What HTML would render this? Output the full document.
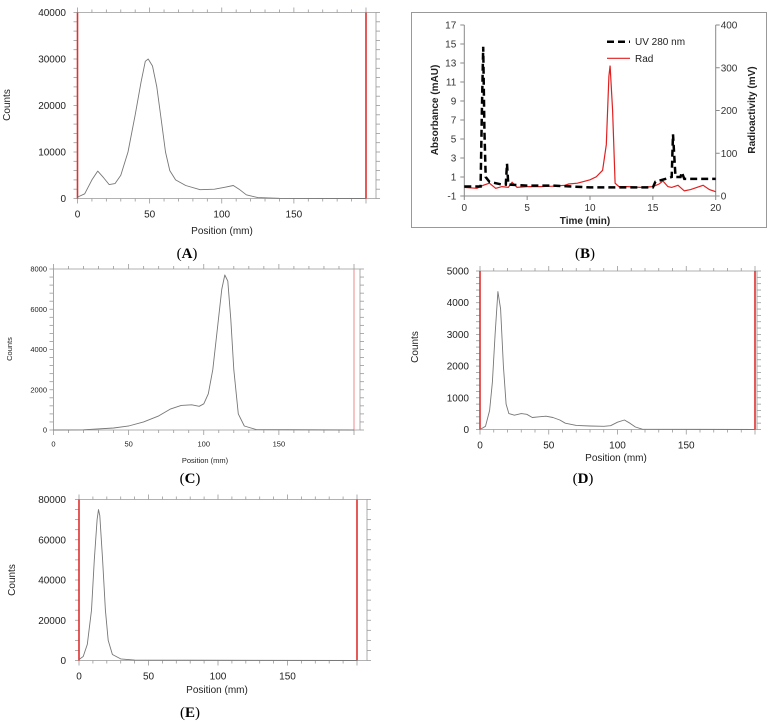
<!DOCTYPE html>
<html><head><meta charset="utf-8">
<style>
body{margin:0;background:#fff;width:771px;height:723px;overflow:hidden;font-family:"Liberation Sans",sans-serif}
svg{position:absolute;left:0;top:0}
</style></head>
<body>
<svg id="fig" width="771" height="723" viewBox="0 0 771 723"></svg>
<script>
// Panel A data (position mm, counts)
const aPos=[0,5,10,14,18,22,26,30,35,40,44,47,49,52,55,58,61,64,68,75,85,95,102,108,112,117,125,140,200];
const aCounts=[300,1000,4000,5900,4500,3000,3200,5000,10000,18000,25000,29500,30000,28500,24000,17000,10000,6000,4000,2800,1900,2000,2400,2800,2000,800,200,50,0];
// Panel C data
const cPos=[0,20,40,50,60,70,78,85,92,97,100,103,106,109,112,114,116,118,120,123,127,135,200];
const cCounts=[0,10,100,200,400,700,1050,1220,1250,1180,1300,1800,3000,5000,7000,7700,7400,5500,3000,800,200,20,0];
// Panel D data
const dPos=[0,4,7,9,11,13,15,17,19,21,25,30,34,38,43,48,53,58,62,70,80,90,95,100,105,109,113,118,200];
const dCounts=[0,100,600,1500,3000,4350,3800,2000,800,500,450,500,480,380,400,420,380,300,200,130,110,100,120,230,300,200,80,10,0];
// Panel E data
const ePos=[0,3,6,9,11,13,14,15,17,19,21,24,30,40,200];
const eCounts=[500,2000,8000,25000,50000,70000,75000,72000,50000,25000,10000,3000,800,200,0];
// Panel B data (time min)
const uvTime=[0,1.3,1.4,1.5,1.6,1.7,2,3,3.3,3.4,3.5,5,7,10,15,15.2,16,16.5,16.6,16.8,17.2,17.3,17.5,20];
const uvAbs=[0,0,8,14.7,6,1,0.5,0.2,0.2,2.4,0.2,0.1,0.1,-0.1,-0.1,0.5,0.8,1,5.5,1,1,1.5,0.8,0.8];
const radTime=[0,1,1.5,2,2.5,3,3.5,3.8,4.2,5,6,7,8,8.3,9,10,10.5,11,11.3,11.5,11.6,11.8,12,12.3,13,14,15,15.5,15.8,16.2,16.5,17,17.5,18,18.5,19,19.5,20];
const radMv=[20,18,25,30,18,22,20,32,20,22,22,23,25,28,30,38,45,60,120,280,305,200,30,22,22,20,22,28,35,22,20,25,12,15,20,25,15,10];
const countTicksA=["0","10000","20000","30000","40000"];
const countTicksC=["0","2000","4000","6000","8000"];
const countTicksD=["0","1000","2000","3000","4000","5000"];
const countTicksE=["0","20000","40000","60000","80000"];
const posTicks=["0","50","100","150"];
const absTicks=["-1","1","3","5","7","9","11","13","15","17"];
const radTicks=["0","100","200","300","400"];
const timeTicks=["0","5","10","15","20"];

const NS="http://www.w3.org/2000/svg";
const svg=document.getElementById('fig');
function el(tag,attrs,parent,text){const e=document.createElementNS(NS,tag);for(const k in attrs)e.setAttribute(k,attrs[k]);if(text!==undefined)e.textContent=text;(parent||svg).appendChild(e);return e;}

function tlcPanel(cfg){
  const g=el('g',{});
  
  
  const X=v=>cfg.x0+(v/200)*(cfg.x200-cfg.x0);
  const Y=v=>cfg.y0+(v/cfg.ymax)*(cfg.ytop-cfg.y0);
  const right=cfg.xr, fs=cfg.fs;
  // frame
  const fr=el('path',{d:`M${cfg.x0} ${cfg.ytop}H${right}V${cfg.y0}H${cfg.x0}Z`,fill:'none',stroke:'#999','stroke-width':0.8},g);
  
  // x ticks every 10mm
  for(let m=0;m<=200;m+=10){const x=X(m);const big=m%50===0?5:3;
    el('line',{x1:x,x2:x,y1:cfg.ytop,y2:cfg.ytop-big,stroke:'#999','stroke-width':0.8},g);
    el('line',{x1:x,x2:x,y1:cfg.y0,y2:cfg.y0+big,stroke:'#999','stroke-width':0.8},g);}
  // y ticks minor
  const n=cfg.minor;
  for(let i=0;i<=n;i++){const y=cfg.y0+(cfg.ytop-cfg.y0)*i/n;
    el('line',{x1:cfg.x0,x2:cfg.x0-4,y1:y,y2:y,stroke:'#999','stroke-width':0.8},g);
    el('line',{x1:right,x2:right+4,y1:y,y2:y,stroke:'#999','stroke-width':0.8},g);}
  // y labels
  cfg.yt.forEach((t,i)=>{const v=cfg.ymax*i/(cfg.yt.length-1);
    const e=el('text',{x:cfg.lx,y:Y(v)+fs*0.35,'font-size':fs,'text-anchor':'end',fill:'#222'},g,t);
    });
  posTicks.forEach(t=>{const e=el('text',{x:X(+t),y:cfg.y0+fs+9,'font-size':fs,'text-anchor':'middle',fill:'#222'},g,t);
    });
  const xt=el('text',{x:cfg.xtx,y:cfg.xty,'font-size':fs,'text-anchor':'middle',fill:'#222'},g,'Position (mm)');
  
  const yt=el('text',{x:cfg.ytx,y:cfg.yty,'font-size':fs,'text-anchor':'middle',fill:'#222',transform:`rotate(-90 ${cfg.ytx} ${cfg.yty})`},g,'Counts');
  
  // red lines
  [0,200].forEach(m=>{const r=el('line',{x1:X(m),x2:X(m),y1:cfg.ytop,y2:cfg.y0,stroke:cfg.red,'stroke-width':cfg.rw},g);
    });
  // trace
  const d=cfg.px.map((p,i)=>(i?'L':'M')+X(p).toFixed(1)+' '+Y(cfg.py[i]).toFixed(1)).join('');
  const tr=el('path',{d:d,fill:'none',stroke:'#777','stroke-width':0.9,'stroke-linejoin':'round'},g);
  
  const lb=el('text',{x:cfg.labx,y:cfg.laby,'font-size':15,'text-anchor':'middle',fill:'#000','font-family':'Liberation Serif, serif'},g);
  
  lb.innerHTML='(<tspan font-weight="bold">'+cfg.letter+'</tspan>)';
}

tlcPanel({name:'panel-a',letter:'A',x0:77.5,x200:366,xr:376,ytop:12.5,y0:198.5,ymax:40000,minor:20,yt:countTicksA,fs:10,lx:66,xtx:222,xty:234,ytx:10,yty:105,red:'#e03030',rw:1.6,px:aPos,py:aCounts,labx:187,laby:258});
tlcPanel({name:'panel-c',letter:'C',x0:53.5,x200:354,xr:360,ytop:269,y0:430,ymax:8000,minor:20,yt:countTicksC,fs:7.5,lx:47,xtx:205,xty:463,ytx:12,yty:349,red:'#e88',rw:1,px:cPos,py:cCounts,labx:190,laby:483});
tlcPanel({name:'panel-d',letter:'D',x0:480,x200:755,xr:757,ytop:271,y0:429.5,ymax:5000,minor:25,yt:countTicksD,fs:10,lx:469,xtx:616,xty:461,ytx:418,yty:347,red:'#e03030',rw:1.6,px:dPos,py:dCounts,labx:583,laby:483});
tlcPanel({name:'panel-e',letter:'E',x0:79,x200:357,xr:367,ytop:499.5,y0:660.5,ymax:80000,minor:16,yt:countTicksE,fs:10,lx:66,xtx:217,xty:693,ytx:15,yty:580,red:'#e03030',rw:1.6,px:ePos,py:eCounts,labx:190,laby:717});

// Panel B
(function(){
  const g=el('g',{});
  
  
  const box=el('rect',{x:411.5,y:12.5,width:355,height:215,fill:'#fff',stroke:'#999','stroke-width':1},g);
  
  const x0=464.3,x1=715.7,yT=25,yB=196;
  const X=t=>x0+t/20*(x1-x0);
  const YA=v=>yB+(v+1)/18*(yT-yB);
  const YR=v=>yB+v/400*(yT-yB);
  el('line',{x1:x0,x2:x0,y1:yT,y2:yB,stroke:'#888'},g);
  el('line',{x1:x1,x2:x1,y1:yT,y2:yB,stroke:'#888'},g);
  el('line',{x1:x0,x2:x1,y1:yB,y2:yB,stroke:'#888'},g);
  absTicks.forEach(t=>{const y=YA(+t);el('line',{x1:x0-4,x2:x0,y1:y,y2:y,stroke:'#888'},g);
    const e=el('text',{x:x0-8,y:y+3.5,'font-size':10,'text-anchor':'end',fill:'#333'},g,t);
    });
  radTicks.forEach(t=>{const y=YR(+t);el('line',{x1:x1,x2:x1+4,y1:y,y2:y,stroke:'#888'},g);
    const e=el('text',{x:x1+5,y:y+3.5,'font-size':10,'text-anchor':'start',fill:'#333'},g,t);
    });
  timeTicks.forEach(t=>{const x=X(+t);el('line',{x1:x,x2:x,y1:yB,y2:yB+4,stroke:'#888'},g);
    const e=el('text',{x:x,y:yB+15,'font-size':10,'text-anchor':'middle',fill:'#333'},g,t);
    });
  const xt=el('text',{x:585,y:224,'font-size':10,'font-weight':'bold','text-anchor':'middle',fill:'#222'},g,'Time (min)');
  
  const yl=el('text',{x:438,y:110,'font-size':10,'font-weight':'bold','text-anchor':'middle',fill:'#222',transform:'rotate(-90 438 110)'},g,'Absorbance (mAU)');
  
  const yr=el('text',{x:755,y:110,'font-size':10,'font-weight':'bold','text-anchor':'middle',fill:'#222',transform:'rotate(-90 755 110)'},g,'Radioactivity (mV)');
  
  const rd=radTime.map((t,i)=>(i?'L':'M')+X(t).toFixed(1)+' '+YR(radMv[i]).toFixed(1)).join('');
  const rp=el('path',{d:rd,fill:'none',stroke:'#e02020','stroke-width':1.2},g);
  
  const ud=uvTime.map((t,i)=>(i?'L':'M')+X(t).toFixed(1)+' '+YA(uvAbs[i]).toFixed(1)).join('');
  const up=el('path',{d:ud,fill:'none',stroke:'#000','stroke-width':2.5,'stroke-dasharray':'7 4'},g);
  
  const l1=el('line',{x1:607,x2:630,y1:41.7,y2:41.7,stroke:'#000','stroke-width':2.5,'stroke-dasharray':'7 4'},g);
  
  const t1=el('text',{x:635,y:45,'font-size':10,fill:'#222'},g,'UV 280 nm');
  
  const l2=el('line',{x1:607,x2:630,y1:58.3,y2:58.3,stroke:'#e02020','stroke-width':1.2},g);
  
  const t2=el('text',{x:635,y:62,'font-size':10,fill:'#222'},g,'Rad');
  
  const lb=el('text',{x:585,y:258,'font-size':15,'text-anchor':'middle','font-family':'Liberation Serif, serif'},g);
  
  lb.innerHTML='(<tspan font-weight="bold">B</tspan>)';
})();
</script>
</body></html>
